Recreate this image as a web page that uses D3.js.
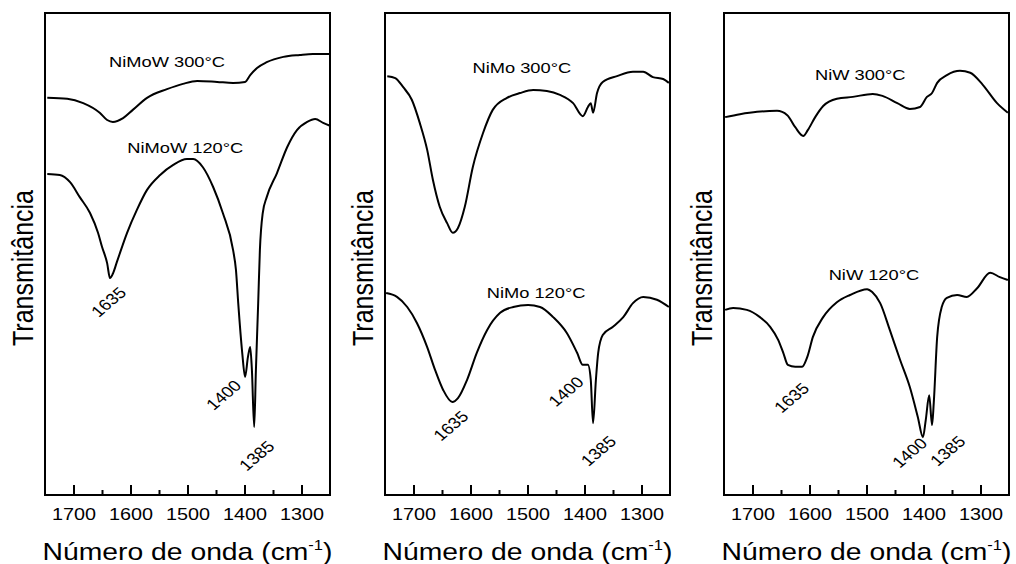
<!DOCTYPE html>
<html>
<head>
<meta charset="utf-8">
<script src="https://cdn.jsdelivr.net/npm/d3@7"></script>
<style>
  body { margin: 0; background: #fff; }
  svg { display: block; font-family: "Liberation Sans", Arial, sans-serif; }
</style>
</head>
<body>
<div id="chart"></div>
<script>
// wavenumber axis (cm-1), reversed
var wnDomain = [1750, 1250];
var majorTicks = [1700, 1600, 1500, 1400, 1300];
var minorTicks = [1650, 1550, 1450, 1350];

// spectra: [wavenumber, transmittance (a.u.)]
var nimow300 = [[1746,82.4],[1711,82.2],[1683,81.3],[1654,79.3],[1641,77.8],[1631,77.4],[1613,78.2],[1596,79.9],[1571,82.4],[1536,84.2],[1508,85.3],[1483,85.9],[1448,85.7],[1420,85.5],[1399,85.7],[1390,87.1],[1378,88.6],[1361,89.8],[1332,90.9],[1303,91.3],[1280,91.5],[1250,91.5]];
var nimow120 = [[1746,66.6],[1724,66.4],[1706,64.9],[1689,61.8],[1671,58.5],[1657,54.4],[1650,51.5],[1641,48.1],[1636,45.0],[1631,45.9],[1624,48.3],[1606,54.4],[1589,59.1],[1571,63.3],[1548,66.4],[1525,68.5],[1501,69.7],[1490,69.7],[1473,68.0],[1455,63.9],[1438,58.5],[1420,50.8],[1415,46.7],[1411,39.8],[1404,29.5],[1399,24.5],[1394,28.6],[1390,30.7],[1387,25.9],[1383,14.1],[1380,25.9],[1376,39.8],[1373,50.8],[1368,58.5],[1361,61.8],[1343,66.8],[1325,72.2],[1308,75.7],[1290,77.4],[1276,78.0],[1262,77.2],[1250,76.6]];
var nimo300 = [[1746,86.9],[1732,86.5],[1718,84.6],[1703,82.0],[1689,77.2],[1676,71.6],[1666,65.4],[1654,59.8],[1641,56.4],[1631,54.4],[1622,55.4],[1610,59.8],[1596,68.0],[1578,75.1],[1561,79.9],[1536,82.4],[1513,83.4],[1490,84.0],[1466,83.8],[1443,83.0],[1420,81.3],[1403,78.6],[1394,80.5],[1389,81.3],[1385,79.3],[1378,83.4],[1368,85.7],[1343,86.9],[1315,87.8],[1297,87.8],[1280,86.7],[1262,86.3],[1252,85.5]];
var nimo120 = [[1748,41.9],[1729,41.1],[1711,39.0],[1694,35.7],[1676,30.7],[1662,25.9],[1648,21.8],[1632,19.3],[1622,20.1],[1606,23.9],[1589,29.5],[1571,34.2],[1548,37.8],[1525,39.0],[1499,39.4],[1478,39.0],[1455,36.9],[1431,33.6],[1413,29.5],[1403,27.0],[1394,27.0],[1389,23.9],[1385,14.9],[1380,23.9],[1376,29.5],[1368,33.2],[1350,34.9],[1332,36.9],[1315,39.8],[1297,41.1],[1273,40.5],[1252,39.0]];
var niw300 = [[1748,78.4],[1722,79.0],[1692,79.5],[1657,79.7],[1639,78.8],[1625,76.3],[1611,74.5],[1603,75.7],[1590,78.4],[1576,80.7],[1552,82.2],[1524,82.6],[1489,83.2],[1472,82.8],[1446,81.3],[1424,80.1],[1406,80.5],[1394,82.6],[1385,83.4],[1376,85.5],[1359,87.1],[1336,88.0],[1318,87.6],[1296,85.1],[1271,81.3],[1252,79.3]];
var niw120 = [[1748,38.4],[1734,38.8],[1710,38.4],[1687,36.9],[1669,34.9],[1655,32.2],[1646,29.5],[1638,27.0],[1625,26.6],[1613,26.6],[1604,28.6],[1594,32.8],[1576,36.9],[1552,40.0],[1529,41.5],[1499,42.7],[1490,42.1],[1476,39.8],[1459,34.2],[1441,28.0],[1424,22.4],[1410,16.2],[1401,12.0],[1396,15.6],[1390,20.7],[1385,14.5],[1382,19.1],[1376,32.8],[1368,39.0],[1359,40.9],[1341,41.5],[1324,41.1],[1306,42.9],[1283,46.1],[1266,45.2],[1252,44.6]];

var peakLabels = ["1635", "1400", "1385"];

// layout for each panel
var panels = [
  { left: 45,
    series: [nimow300, nimow120],
    names: ["NiMoW 300°C", "NiMoW 120°C"],
    nameAt: [[1536, 88.8], [1504, 71.0]],
    peakAt: [[1638, 40.0], [1436, 20.7], [1378, 8.1]] },
  { left: 385,
    series: [nimo300, nimo120],
    names: ["NiMo 300°C", "NiMo 120°C"],
    nameAt: [[1510, 87.6], [1485, 40.9]],
    peakAt: [[1634, 14.3], [1432, 21.4], [1375, 9.1]] },
  { left: 724,
    series: [niw300, niw120],
    names: ["NiW 300°C", "NiW 120°C"],
    nameAt: [[1511, 86.1], [1487, 44.6]],
    peakAt: [[1631, 20.1], [1424, 8.7], [1357, 9.1]] }
];

var marginTop = 13, width = 285, height = 482;
var stretch = 1.18; // text in the original is a bit wider than tall

var svg = d3.select("#chart")
  .append("svg")
  .attr("width", 1016)
  .attr("height", 564);

var y = d3.scaleLinear().domain([0, 100]).range([height, 0]);

panels.forEach(function (p) {
  var g = svg.append("g")
    .attr("transform", "translate(" + p.left + "," + marginTop + ")");

  var x = d3.scaleLinear().domain(wnDomain).range([0, width]);

  var line = d3.line()
    .x(function (d) { return x(d[0]); })
    .y(function (d) { return y(d[1]); })
    .curve(d3.curveMonotoneX);

  // spectra
  p.series.forEach(function (s) {
    g.append("path")
      .datum(s)
      .attr("d", line)
      .attr("fill", "none")
      .attr("stroke", "#000")
      .attr("stroke-width", 2)
      .attr("stroke-linejoin", "round");
  });

  // minor ticks
  g.append("g")
    .attr("transform", "translate(0," + height + ")")
    .call(d3.axisBottom(x).tickValues(minorTicks).tickSize(-5).tickFormat(""))
    .call(function (a) { a.select(".domain").remove(); })
    .selectAll("line").attr("stroke-width", 2);

  // major ticks with labels
  var ax = g.append("g")
    .attr("transform", "translate(0," + height + ")")
    .call(d3.axisBottom(x).tickValues(majorTicks).tickSize(-10).tickPadding(13).tickFormat(d3.format("d")));
  ax.select(".domain").remove();
  ax.selectAll("line").attr("stroke-width", 2);
  ax.selectAll("text")
    .attr("font-size", 16.8)
    .attr("font-family", "Liberation Sans, Arial, sans-serif")
    .attr("fill", "#000")
    .attr("transform", "scale(" + stretch + ",1)");

  // frame
  g.append("rect")
    .attr("width", width)
    .attr("height", height)
    .attr("fill", "none")
    .attr("stroke", "#000")
    .attr("stroke-width", 2);

  // series names
  p.names.forEach(function (n, i) {
    g.append("text")
      .attr("transform", "translate(" + x(p.nameAt[i][0]) + "," + y(p.nameAt[i][1]) + ") scale(" + stretch + ",1)")
      .attr("text-anchor", "middle")
      .attr("font-size", 15.5)
      .text(n);
  });

  // peak labels
  peakLabels.forEach(function (t, i) {
    g.append("text")
      .attr("transform", "translate(" + x(p.peakAt[i][0]) + "," + y(p.peakAt[i][1]) + ") scale(" + stretch + ",1) rotate(-45)")
      .attr("text-anchor", "middle")
      .attr("dominant-baseline", "central")
      .attr("font-size", 15.5)
      .text(t);
  });

  // y label
  g.append("text")
    .attr("transform", "translate(-12," + (height / 2 + 14) + ") scale(" + stretch + ",1) rotate(-90)")
    .attr("text-anchor", "middle")
    .attr("font-size", 25)
    .text("Transmitância");

  // x title
  var xt = g.append("text")
    .attr("transform", "translate(" + (width / 2) + "," + (height + 65) + ") scale(" + stretch + ",1)")
    .attr("text-anchor", "middle")
    .attr("font-size", 24);
  xt.append("tspan").text("Número de onda (cm");
  xt.append("tspan").attr("dy", -10).attr("font-size", 14).text("-1");
  xt.append("tspan").attr("dy", 10).text(")");
});
</script>
</body>
</html>
